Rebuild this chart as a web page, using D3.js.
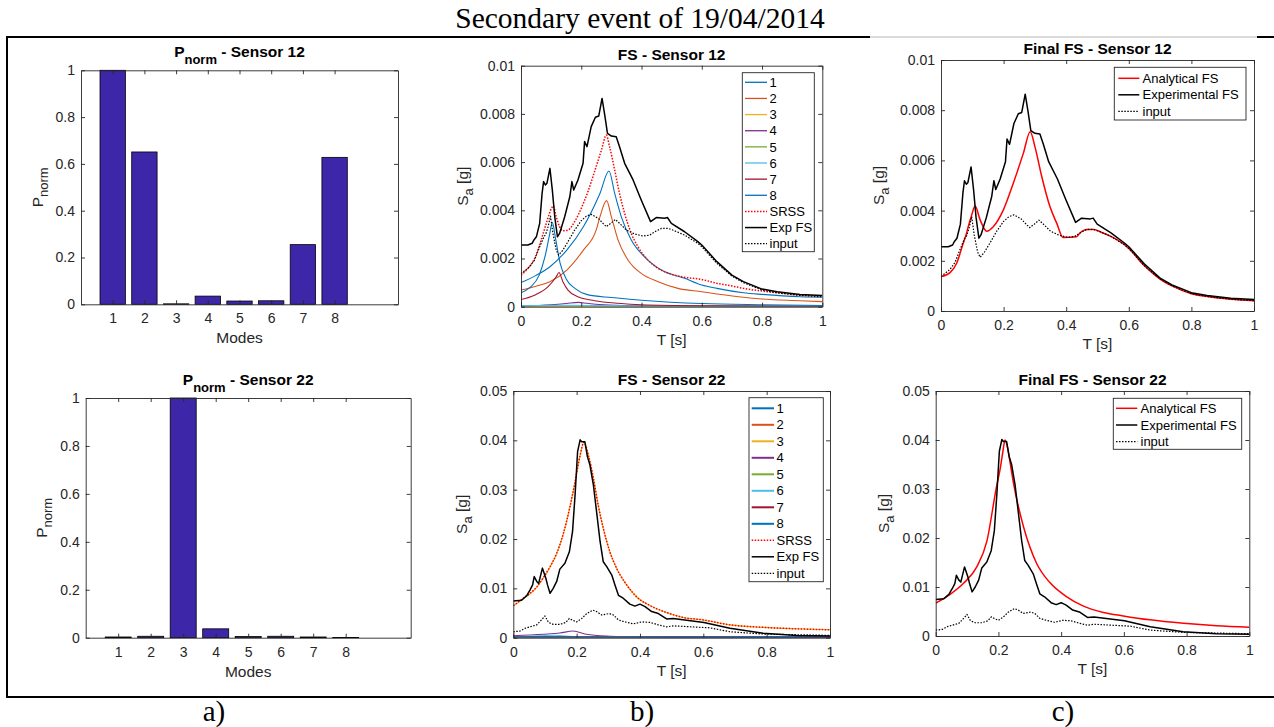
<!DOCTYPE html>
<html>
<head>
<meta charset="utf-8">
<script src="https://cdn.jsdelivr.net/npm/d3@7"></script>
<style>
  body { margin: 0; background: #fff; }
  svg { display: block; }
  text { font-family: "Liberation Sans", Arial, Helvetica, sans-serif; fill: #262626; }
  .serif { font-family: "Liberation Serif", "Times New Roman", serif; fill: #000; }
  .axis path, .axis line { stroke: #262626; stroke-width: 0.9; }
  .axis text { font-size: 14px; }
  .title { font-size: 15.5px; font-weight: bold; fill: #000; }
  .label { font-size: 15.5px; }
  .legend text { font-size: 13px; fill: #000; }
</style>
</head>
<body>
<div id="chart"></div>
<script>

// ---- data ----
var modes = [1, 2, 3, 4, 5, 6, 7, 8];
var pnorm12 = [1, 0.651, 0.002, 0.035, 0.014, 0.015, 0.255, 0.628];
var pnorm22 = [0.003, 0.006, 1, 0.037, 0.005, 0.006, 0.003, 0.001];

var pTicks = [0, 0.2, 0.4, 0.6, 0.8, 1];
var tTicks = [0, 0.2, 0.4, 0.6, 0.8, 1];
var sa12Ticks = [0, 0.002, 0.004, 0.006, 0.008, 0.01];
var sa22Ticks = [0, 0.01, 0.02, 0.03, 0.04, 0.05];

var modeNames = ['1', '2', '3', '4', '5', '6', '7', '8'];
var modeColors = ['#0072BD', '#D95319', '#EDB120', '#7E2F8E', '#77AC30', '#4DBEEE', '#A2142F', '#0072BD'];

// Sensor 12, [T (s), Sa (g)]
var exp12 = [[0,.00256],[.023,.00256],[.037,.00263],[.043,.00277],[.051,.0029],[.062,.00346],[.07,.0047],[.075,.00519],
  [.081,.00505],[.086,.00512],[.096,.00574],[.104,.00484],[.112,.00373],[.121,.0029],[.128,.00304],[.145,.00373],
  [.162,.00456],[.169,.00519],[.175,.00484],[.189,.00526],[.206,.00595],[.211,.00685],[.219,.00664],[.233,.00747],
  [.247,.00786],[.258,.00791],[.269,.00864],[.278,.00795],[.287,.00719],[.3,.00708],[.316,.00705],[.327,.00664],
  [.344,.00595],[.372,.00526],[.399,.00443],[.43,.00353],[.449,.0037],[.477,.00367],[.486,.0037],[.499,.00346],
  [.543,.00311],[.587,.0027],[.6,.00256],[.65,.00187],[.7,.00131],[.738,.00104],[.8,.00073],[.85,.00062],[.926,.00051],[1,.00046]];

var input12 = [[0,.00138],[.012,.00149],[.029,.00166],[.045,.00194],[.062,.00249],[.076,.0029],[.082,.003],[.09,.00332],
  [.098,.00376],[.106,.00304],[.117,.00235],[.125,.00214],[.139,.00235],[.156,.0027],[.178,.00318],[.2,.00357],
  [.217,.00376],[.233,.00383],[.256,.00367],[.272,.00346],[.283,.00332],[.298,.00346],[.313,.00362],[.327,.00346],
  [.35,.00318],[.377,.00302],[.405,.00293],[.427,.00297],[.444,.00311],[.466,.00325],[.488,.00325],[.51,.00315],
  [.543,.00297],[.587,.00263],[.6,.00249],[.65,.0018],[.7,.00127],[.738,.001],[.8,.00069],[.85,.00058],[.926,.00047],[1,.00041]];

var srss12 = [[0,.00131],[.023,.00159],[.045,.002],[.067,.00277],[.084,.00346],[.101,.00408],[.107,.00418],[.117,.00373],
  [.128,.00332],[.139,.00315],[.156,.00318],[.178,.00353],[.2,.00408],[.222,.00477],[.244,.0056],[.267,.0065],
  [.283,.00712],[.294,.00664],[.311,.00567],[.327,.0047],[.344,.00387],[.366,.00304],[.388,.00249],[.421,.00194],
  [.455,.00159],[.499,.00135],[.543,.00122],[.6,.00113],[.65,.00097],[.7,.00086],[.738,.00076],[.8,.00065],
  [.85,.00058],[.926,.00048],[1,.00044]];

var mode1_12 = [[0,.001],[.05,.0013],[.096,.00166],[.152,.00235],[.207,.00332],[.262,.0047],[.292,.00563],[.311,.0047],
  [.333,.00373],[.366,.00277],[.41,.00207],[.466,.00152],[.543,.00118],[.6,.0009],[.65,.00076],[.738,.00058],
  [.8,.00051],[.926,.00041],[1,.00039]];
var mode2_12 = [[0,.00069],[.05,.00085],[.096,.00104],[.152,.00152],[.207,.00235],[.25,.0032],[.262,.00373],[.284,.0044],
  [.3,.00373],[.322,.00277],[.355,.00194],[.399,.00138],[.455,.00104],[.521,.00076],[.6,.00062],[.65,.00053],
  [.738,.00039],[.8,.00032],[.926,.00025],[1,.00021]];
var mode3_12 = [[0,.00001],[.3,.00002],[1,.00001]];
var mode4_12 = [[0,.00003],[.1,.00008],[.15,.00013],[.19,.00018],[.22,.00014],[.26,.00009],[.35,.00005],[.5,.00003],[1,.00001]];
var mode5_12 = [[0,.00002],[.1,.00003],[.3,.00002],[1,.00001]];
var mode6_12 = [[0,.00004],[.15,.00006],[.4,.00003],[1,.00001]];
var mode7_12 = [[0,.0003],[.045,.00048],[.09,.00083],[.117,.00124],[.126,.00142],[.139,.00104],[.156,.00069],[.189,.00041],
  [.244,.00025],[.322,.00014],[.4,.00008],[.6,.00004],[1,.00002]];
var mode8_12 = [[0,.00058],[.03,.0008],[.06,.0013],[.08,.0021],[.095,.003],[.104,.0035],[.115,.0028],[.13,.0018],
  [.15,.00115],[.18,.00075],[.22,.0005],[.3,.00038],[.4,.00027],[.6,.00013],[.8,.00008],[1,.00005]];

var analytical12 = [[0,.00137],[.029,.00153],[.05,.0019],[.071,.0027],[.08,.00303],[.087,.00336],[.098,.00382],[.109,.00418],
  [.125,.00363],[.146,.00318],[.167,.00336],[.199,.00402],[.231,.00509],[.263,.00628],[.285,.00714],[.3,.00655],
  [.322,.00535],[.348,.00416],[.37,.00349],[.39,.00293],[.433,.00296],[.444,.00311],[.466,.00325],[.488,.00325],
  [.51,.00315],[.543,.00297],[.587,.00263],[.6,.00249],[.65,.0018],[.7,.00127],[.738,.001],[.8,.00069],[.85,.00058],
  [.926,.00047],[1,.00041]];

// Sensor 22
var exp22 = [[0,.00743],[.026,.0076],[.042,.0085],[.053,.0097],[.061,.0107],[.066,.0124],[.074,.0114],[.08,.011],
  [.092,.0141],[.103,.012],[.108,.0107],[.116,.009],[.126,.01],[.137,.0114],[.147,.0139],[.163,.0151],[.177,.0174],
  [.187,.0215],[.195,.0289],[.203,.0377],[.211,.0401],[.216,.0397],[.226,.0397],[.234,.0367],[.242,.035],[.253,.0309],
  [.263,.0255],[.274,.0195],[.284,.0154],[.295,.0144],[.311,.0127],[.321,.0107],[.332,.0086],[.347,.008],[.368,.0068],
  [.384,.0064],[.4,.0068],[.416,.0063],[.437,.0053],[.458,.0049],[.484,.0038],[.505,.0039],[.602,.0031],[.684,.0019],
  [.789,.00088],[.895,.00047],[1,.00034]];

var input22 = [[0,.0012],[.021,.00135],[.037,.0019],[.053,.0022],[.074,.0026],[.089,.0036],[.1,.0044],[.111,.0031],
  [.126,.0027],[.147,.0027],[.166,.0031],[.177,.0039],[.189,.0035],[.2,.0032],[.216,.0039],[.232,.0049],[.251,.0056],
  [.263,.0053],[.279,.0046],[.303,.0049],[.316,.0046],[.332,.0036],[.353,.0032],[.379,.0028],[.405,.0032],[.432,.0031],
  [.458,.0026],[.484,.0022],[.505,.0024],[.621,.002],[.684,.0012],[.79,.00074],[1,.00047]];

var srss22 = [[0,.0065],[.032,.008],[.053,.009],[.074,.0103],[.095,.0122],[.116,.0144],[.137,.0171],[.158,.0211],
  [.179,.0266],[.195,.0316],[.211,.037],[.223,.0396],[.237,.037],[.253,.0323],[.268,.0269],[.284,.0222],[.305,.0174],
  [.326,.0141],[.358,.0107],[.389,.0083],[.432,.0065],[.484,.0051],[.537,.0041],[.6,.0036],[.684,.0026],[.789,.0021],
  [.895,.0018],[1,.0016]];

var mode1_22 = [[0,.00025],[.3,.00022],[1,.0002]];
var mode2_22 = [[0,.00015],[.25,.0002],[1,.0001]];
var mode3_22 = [[0,.0064],[.032,.0079],[.053,.0089],[.074,.0102],[.095,.0121],[.116,.0143],[.137,.017],[.158,.021],
  [.179,.0265],[.195,.0315],[.211,.0369],[.223,.0396],[.237,.037],[.253,.0323],[.268,.0269],[.284,.0222],[.305,.0174],
  [.326,.0141],[.358,.0107],[.389,.0083],[.432,.0065],[.484,.0051],[.537,.0041],[.6,.0036],[.684,.0026],[.789,.0021],
  [.895,.0018],[1,.0016]];
var mode4_22 = [[0,.0004],[.095,.0007],[.147,.00095],[.189,.00135],[.23,.0007],[.305,.0003],[.4,.00014],[.6,.0001],[1,.00005]];
var mode5_22 = [[0,.0001],[1,.00005]];
var mode6_22 = [[0,.0001],[.13,.0005],[.2,.0002],[1,.00005]];
var mode7_22 = [[0,.0001],[1,.00005]];
var mode8_22 = [[0,.0002],[.2,.00025],[1,.0002]];

var analytical22 = [[0,.0067],[.046,.0085],[.088,.0107],[.131,.0141],[.163,.0193],[.194,.0305],[.205,.0339],[.214,.0375],
  [.221,.04],[.229,.0385],[.237,.0355],[.248,.0312],[.28,.0223],[.322,.0148],[.364,.0109],[.418,.008],[.471,.0061],
  [.535,.0048],[.598,.0041],[.683,.0033],[.79,.0026],[.896,.0021],[1,.0018]];

var modes12 = [mode1_12, mode2_12, mode3_12, mode4_12, mode5_12, mode6_12, mode7_12, mode8_12];
var modes22 = [mode1_22, mode2_22, mode3_22, mode4_22, mode5_22, mode6_22, mode7_22, mode8_22];

// ---- drawing ----
var W = 1274, H = 727;
var svg = d3.select('#chart').append('svg').attr('width', W).attr('height', H);

// outer frame of the figure table
svg.append('line').attr('x1', 7).attr('x2', 870).attr('y1', 37).attr('y2', 37).attr('stroke', '#000').attr('stroke-width', 2);
svg.append('line').attr('x1', 870).attr('x2', 1257).attr('y1', 37).attr('y2', 37).attr('stroke', '#999').attr('stroke-width', 0.7);
svg.append('line').attr('x1', 1257).attr('x2', W).attr('y1', 37).attr('y2', 37).attr('stroke', '#000').attr('stroke-width', 2);
svg.append('line').attr('x1', 7).attr('x2', 7).attr('y1', 36).attr('y2', 698).attr('stroke', '#000').attr('stroke-width', 2);
svg.append('line').attr('x1', 6).attr('x2', W).attr('y1', 697).attr('y2', 697).attr('stroke', '#000').attr('stroke-width', 2);

svg.append('text').attr('class', 'serif').attr('x', 640).attr('y', 28)
  .attr('text-anchor', 'middle').style('font-size', '29.5px').text('Secondary event of 19/04/2014');

[['a)', 214], ['b)', 642], ['c)', 1063]].forEach(function(c) {
  svg.append('text').attr('class', 'serif').attr('x', c[1]).attr('y', 721)
    .attr('text-anchor', 'middle').style('font-size', '29px').text(c[0]);
});

var clipId = 0;

function drawAxes(g, x, y, w, h, xTicks, yTicks) {
  g.append('g').attr('class', 'axis').attr('transform', 'translate(0,' + h + ')')
    .call(d3.axisBottom(x).tickValues(xTicks).tickSizeInner(-4).tickSizeOuter(0).tickPadding(9).tickFormat(String));
  g.append('g').attr('class', 'axis')
    .call(d3.axisTop(x).tickValues(xTicks).tickSizeInner(-4).tickSizeOuter(0).tickFormat(''));
  g.append('g').attr('class', 'axis')
    .call(d3.axisLeft(y).tickValues(yTicks).tickSizeInner(-4).tickSizeOuter(0).tickPadding(6).tickFormat(String));
  g.append('g').attr('class', 'axis').attr('transform', 'translate(' + w + ',0)')
    .call(d3.axisRight(y).tickValues(yTicks).tickSizeInner(-4).tickSizeOuter(0).tickFormat(''));
}

// title with optional subscript part
function addTitle(cx, by, main, sub, rest) {
  var t = svg.append('text').attr('class', 'title').attr('x', cx).attr('y', by).attr('text-anchor', 'middle');
  t.append('tspan').text(main);
  if (sub) {
    t.append('tspan').attr('dy', 7).style('font-size', '13px').text(sub);
    t.append('tspan').attr('dy', -7).text(rest);
  }
}

function addYLabel(bx, cy, main, sub, rest) {
  var t = svg.append('text').attr('class', 'label').attr('text-anchor', 'middle')
    .attr('transform', 'translate(' + bx + ',' + cy + ') rotate(-90)');
  t.append('tspan').text(main);
  t.append('tspan').attr('dy', 5).style('font-size', '13px').text(sub);
  if (rest) t.append('tspan').attr('dy', -5).text(rest);
}

function barPanel(box, values, sensor, ylabX) {
  var w = box[2] - box[0], h = box[3] - box[1];
  var g = svg.append('g').attr('transform', 'translate(' + box[0] + ',' + box[1] + ')');
  var x = d3.scaleLinear().domain([0, 10]).range([0, w]);
  var y = d3.scaleLinear().domain([0, 1]).range([h, 0]);

  g.selectAll('rect.bar').data(modes).enter().append('rect')
    .attr('class', 'bar')
    .attr('x', function(d) { return x(d - 0.4); })
    .attr('width', x(0.8) - x(0))
    .attr('y', function(d, i) { return y(values[i]); })
    .attr('height', function(d, i) { return h - y(values[i]); })
    .attr('fill', '#3E26A8')
    .attr('stroke', '#000')
    .attr('stroke-width', 0.8);

  drawAxes(g, x, y, w, h, modes, pTicks);

  addTitle((box[0] + box[2]) / 2, box[1] - 13, 'P', 'norm', ' - Sensor ' + sensor);
  svg.append('text').attr('class', 'label').attr('x', (box[0] + box[2]) / 2).attr('y', box[3] + 39)
    .attr('text-anchor', 'middle').text('Modes');
  addYLabel(ylabX, (box[1] + box[3]) / 2, 'P', 'norm');
}

function linePanel(box, yMax, yTicks, series, title, ylabX, leg) {
  var w = box[2] - box[0], h = box[3] - box[1];
  var g = svg.append('g').attr('transform', 'translate(' + box[0] + ',' + box[1] + ')');
  var x = d3.scaleLinear().domain([0, 1]).range([0, w]);
  var y = d3.scaleLinear().domain([0, yMax]).range([h, 0]);

  var id = 'clip' + (clipId++);
  g.append('clipPath').attr('id', id).append('rect').attr('width', w).attr('height', h);
  var plot = g.append('g').attr('clip-path', 'url(#' + id + ')');

  series.forEach(function(s) {
    var line = d3.line()
      .x(function(d) { return x(d[0]); })
      .y(function(d) { return y(d[1]); })
      .curve(s.smooth ? d3.curveMonotoneX : d3.curveLinear);
    plot.append('path')
      .datum(s.data)
      .attr('d', line)
      .attr('fill', 'none')
      .attr('stroke', s.color)
      .attr('stroke-width', s.w)
      .attr('stroke-dasharray', s.dash || null)
      .attr('stroke-linejoin', 'round');
  });

  drawAxes(g, x, y, w, h, tTicks, yTicks);

  addTitle((box[0] + box[2]) / 2, box[1] - 6, title);
  svg.append('text').attr('class', 'label').attr('x', (box[0] + box[2]) / 2).attr('y', box[3] + 38)
    .attr('text-anchor', 'middle').text('T [s]');
  addYLabel(ylabX, (box[1] + box[3]) / 2, 'S', 'a', ' [g]');

  // legend
  var lg = svg.append('g').attr('class', 'legend');
  lg.append('rect')
    .attr('x', leg.box[0]).attr('y', leg.box[1])
    .attr('width', leg.box[2] - leg.box[0]).attr('height', leg.box[3] - leg.box[1])
    .attr('fill', '#fff').attr('stroke', '#262626').attr('stroke-width', 0.9);
  series.forEach(function(s, i) {
    var ry = leg.row0 + i * leg.step;
    lg.append('line')
      .attr('x1', leg.sx[0]).attr('x2', leg.sx[1]).attr('y1', ry).attr('y2', ry)
      .attr('stroke', s.color).attr('stroke-width', s.lw || s.w)
      .attr('stroke-dasharray', s.dash || null);
    lg.append('text').attr('x', leg.tx).attr('y', ry).attr('dy', '0.36em').text(s.name);
  });
}

function modeSeries(list, lw) {
  return list.map(function(d, i) {
    return { name: modeNames[i], data: d, color: modeColors[i], w: 1.1, lw: lw, smooth: true };
  });
}

// a) bar charts
barPanel([81, 70.3, 398, 304.3], pnorm12, 12, 43.3);
barPanel([85.7, 398, 410.7, 637.7], pnorm22, 22, 46.7);

// b) modal contributions
linePanel([521, 65.7, 822.3, 306.7], 0.01, sa12Ticks,
  modeSeries(modes12, 1.3).concat([
    { name: 'SRSS', data: srss12, color: '#FF0000', w: 1.5, dash: '1.5,1.5', smooth: true },
    { name: 'Exp FS', data: exp12, color: '#000', w: 1.5 },
    { name: 'input', data: input12, color: '#000', w: 1.2, dash: '1.5,1.5' }
  ]), 'FS - Sensor 12', 468,
  { box: [742.3, 72.7, 814.3, 251.7], row0: 82.3, step: 16.14, sx: [745, 767], tx: 769.5 });

linePanel([513.3, 391, 830, 637.7], 0.05, sa22Ticks,
  modeSeries(modes22, 2).concat([
    { name: 'SRSS', data: srss22, color: '#FF0000', w: 1.5, dash: '1.5,1.5', smooth: true },
    { name: 'Exp FS', data: exp22, color: '#000', w: 1.5 },
    { name: 'input', data: input22, color: '#000', w: 1.2, dash: '1.5,1.5' }
  ]), 'FS - Sensor 22', 467,
  { box: [749, 397.7, 823.3, 581.7], row0: 408.3, step: 16.5, sx: [751.7, 774], tx: 776.5 });

// c) final floor spectra
linePanel([941, 60, 1254, 311], 0.01, sa12Ticks, [
    { name: 'Analytical FS', data: analytical12, color: '#FF0000', w: 1.5, smooth: true },
    { name: 'Experimental FS', data: exp12, color: '#000', w: 1.5 },
    { name: 'input', data: input12, color: '#000', w: 1.2, dash: '1.5,1.5' }
  ], 'Final FS - Sensor 12', 884,
  { box: [1114.3, 67.3, 1246, 120], row0: 78.3, step: 16.5, sx: [1118.3, 1139.3], tx: 1142.5 });

linePanel([935.7, 391, 1249.3, 636], 0.05, sa22Ticks, [
    { name: 'Analytical FS', data: analytical22, color: '#FF0000', w: 1.5, smooth: true },
    { name: 'Experimental FS', data: exp22, color: '#000', w: 1.5 },
    { name: 'input', data: input22, color: '#000', w: 1.2, dash: '1.5,1.5' }
  ], 'Final FS - Sensor 22', 889,
  { box: [1113.3, 398.3, 1241.7, 449.3], row0: 408.3, step: 16.7, sx: [1116, 1137.3], tx: 1140.5 });

</script>
</body>
</html>
